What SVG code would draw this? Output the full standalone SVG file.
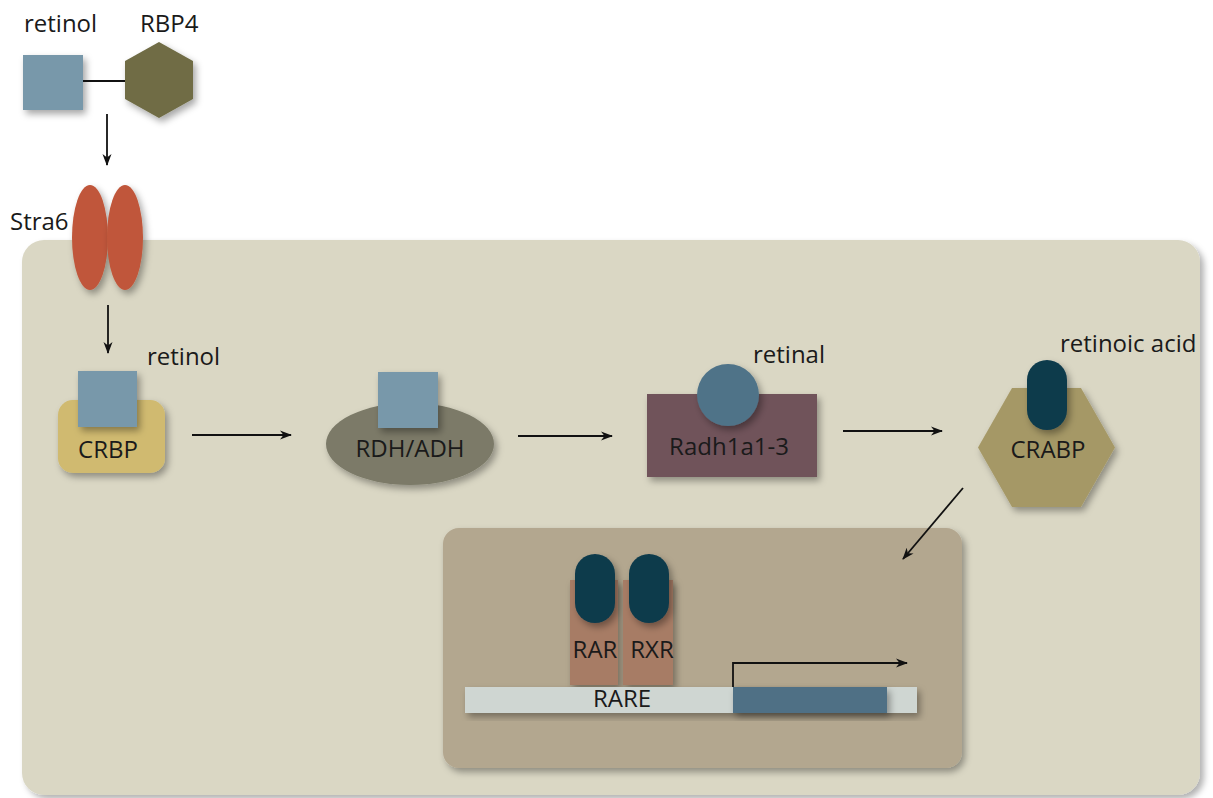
<svg xmlns="http://www.w3.org/2000/svg" width="1213" height="798" viewBox="0 0 1213 798">
<defs>
<filter id="sh" x="-30%" y="-30%" width="160%" height="160%">
<feDropShadow dx="3" dy="4" stdDeviation="3.5" flood-color="#000" flood-opacity="0.35"/>
</filter>
<filter id="shc" x="-5%" y="-5%" width="110%" height="110%">
<feDropShadow dx="4" dy="4" stdDeviation="3" flood-color="#000" flood-opacity="0.3"/>
</filter>
<marker id="ah" viewBox="0 0 12 10" refX="11" refY="5" markerWidth="12" markerHeight="10" markerUnits="userSpaceOnUse" orient="auto">
<path d="M0,0.5 L12,5 L0,9.5 L3.5,5 z" fill="#111"/>
</marker>
<style>
text{font-family:"Open Sans","Liberation Sans",sans-serif;font-size:24px;fill:#1a1a1a}
.c{text-anchor:middle}
.ln{stroke:#111;stroke-width:1.8;fill:none}
.arr{stroke:#111;stroke-width:1.8;fill:none;marker-end:url(#ah)}
.retinol{fill:#7898aa}
.pill{fill:#0c3a4c}
</style>
</defs>

<g id="cell">
<rect x="22" y="240" width="1178" height="555" rx="22" fill="#dad7c4" filter="url(#shc)"/>
</g>

<g id="nucleus">
<rect x="443" y="528" width="519" height="240" rx="16" fill="#b3a78f" filter="url(#sh)"/>
</g>

<g id="retinol-top">
<rect class="retinol" x="23" y="55" width="60" height="55" filter="url(#sh)"/>
<text x="24" y="32">retinol</text>
</g>

<g id="rbp4">
<polygon points="159,42 193,61 193,99 159,118 125,99 125,61" fill="#6f6c45" filter="url(#sh)"/>
<text x="140" y="32">RBP4</text>
</g>

<g id="stra6">
<ellipse cx="90" cy="237.5" rx="18" ry="52.5" fill="#c0573a" filter="url(#sh)"/>
<ellipse cx="125" cy="237.5" rx="18" ry="52.5" fill="#c0573a" filter="url(#sh)"/>
<text x="10" y="230">Stra6</text>
</g>

<g id="crbp">
<rect x="58" y="400" width="107" height="73" rx="15" fill="#d0ba6f" filter="url(#sh)"/>
<rect class="retinol" x="78" y="371" width="59" height="56" filter="url(#sh)"/>
<text class="c" x="108" y="458">CRBP</text>
<text x="147" y="365">retinol</text>
</g>

<g id="rdh">
<ellipse cx="410" cy="444" rx="84" ry="41" fill="#7b7a68" filter="url(#sh)"/>
<rect class="retinol" x="378" y="372" width="60" height="56" filter="url(#sh)"/>
<text class="c" x="410" y="457">RDH/ADH</text>
</g>

<g id="radh">
<rect x="647" y="394" width="170" height="83" fill="#6f525a" filter="url(#sh)"/>
<circle cx="728" cy="395" r="31" fill="#4f7388" filter="url(#sh)"/>
<text class="c" x="729" y="455">Radh1a1-3</text>
<text x="753" y="363">retinal</text>
</g>

<g id="crabp">
<polygon points="978,447.5 1012,388 1081,388 1115,447.5 1081,507 1012,507" fill="#a59866" filter="url(#sh)"/>
<rect class="pill" x="1027" y="360" width="40" height="70" rx="20" filter="url(#sh)"/>
<text class="c" x="1048" y="458">CRABP</text>
<text x="1060" y="352">retinoic acid</text>
</g>

<g id="rar">
<rect x="570" y="580" width="48" height="105" fill="#a77b65" filter="url(#sh)"/>
<rect class="pill" x="575" y="554" width="40" height="69" rx="20" filter="url(#sh)"/>
<text class="c" x="595" y="658">RAR</text>
</g>

<g id="rxr">
<rect x="623" y="580" width="50" height="105" fill="#a77b65" filter="url(#sh)"/>
<rect class="pill" x="629" y="554" width="40" height="69" rx="20" filter="url(#sh)"/>
<text class="c" x="652" y="658">RXR</text>
</g>

<g id="rare">
<rect x="465" y="687" width="452" height="26" fill="#cfd6d2" filter="url(#sh)"/>
<rect x="733" y="687" width="154" height="26" fill="#4f7085" filter="url(#sh)"/>
<text class="c" x="622" y="707">RARE</text>
</g>

<g id="connectors">
<line class="ln" x1="83" y1="81" x2="125" y2="81"/>
<line class="arr" x1="107" y1="114" x2="107" y2="165"/>
<line class="arr" x1="108" y1="305" x2="108" y2="353"/>
<line class="arr" x1="192" y1="435" x2="291" y2="435"/>
<line class="arr" x1="518" y1="436" x2="612" y2="436"/>
<line class="arr" x1="843" y1="431" x2="942" y2="431"/>
<line class="arr" x1="963" y1="488" x2="903" y2="559"/>
<polyline class="arr" points="733,687 733,663 907,663"/>
</g>
</svg>
